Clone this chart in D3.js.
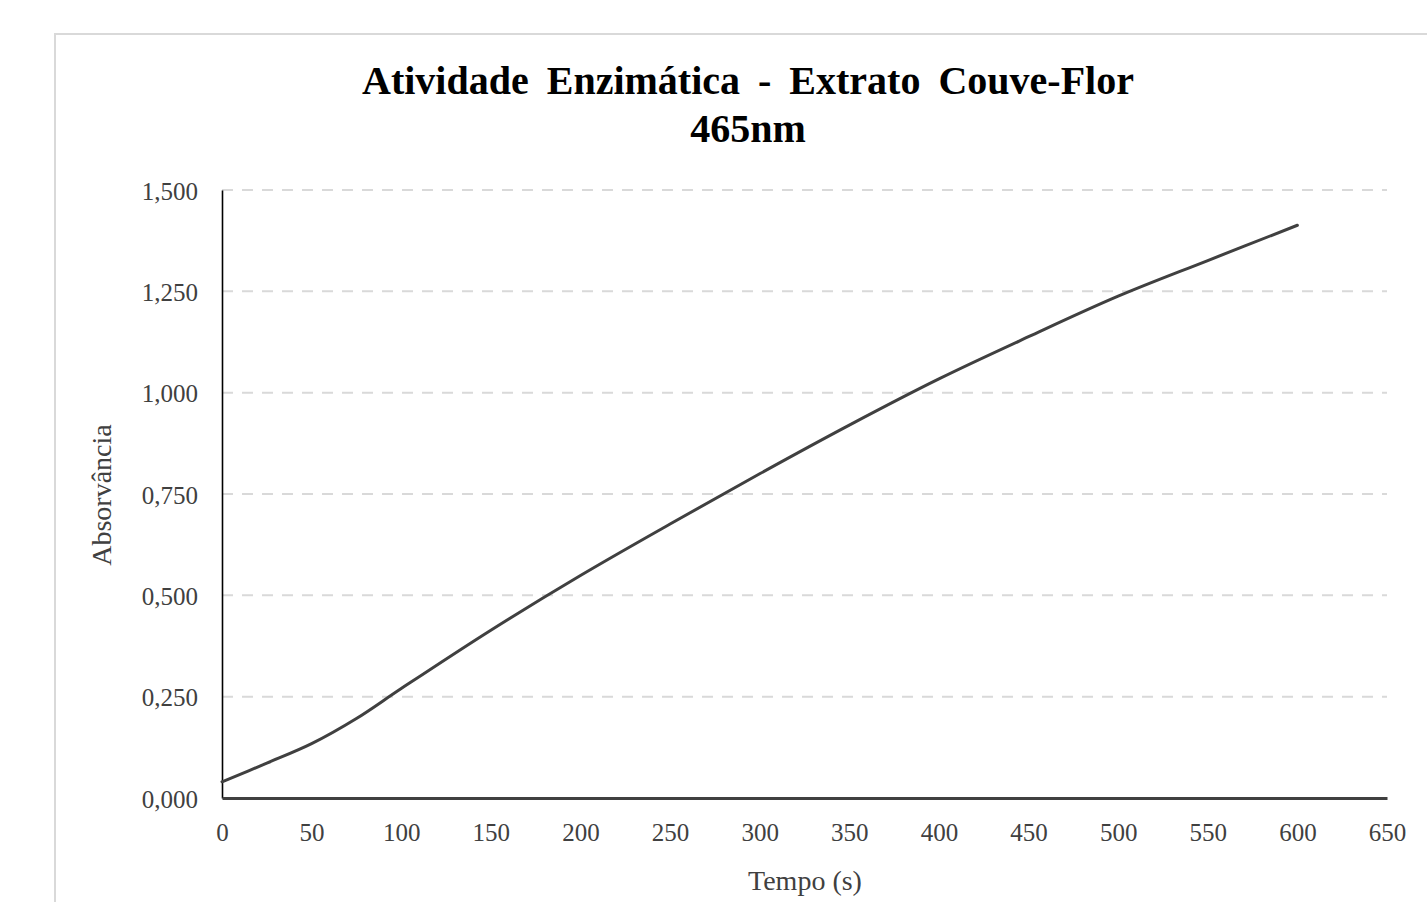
<!DOCTYPE html>
<html>
<head>
<meta charset="utf-8">
<script src="https://cdn.jsdelivr.net/npm/d3@7"></script>
<style>
  body { margin: 0; background: #fff; }
  svg { display: block; }
</style>
</head>
<body>
<svg id="chart" width="1427" height="902"></svg>
<script>
// tempo (s) e absorvância
var tempo = [0, 25, 50, 75, 100, 150, 200, 250, 300, 350, 400, 450, 500, 550, 600];
var absorbancia = [0.040, 0.086, 0.134, 0.196, 0.270, 0.414, 0.549, 0.676, 0.800, 0.920, 1.034, 1.138, 1.238, 1.326, 1.413];

var xTicks = [0, 50, 100, 150, 200, 250, 300, 350, 400, 450, 500, 550, 600, 650];
var yTicks = [0, 0.25, 0.5, 0.75, 1.0, 1.25, 1.5];

var titleLines = ["Atividade Enzimática - Extrato Couve-Flor", "465nm"];

var svg = d3.select("#chart");
var serif = "'Liberation Serif', 'Times New Roman', serif";

var x = d3.scaleLinear().domain([0, 650]).range([222, 1387]);
var y = d3.scaleLinear().domain([0, 1.5]).range([798, 190]);

var fmt = function(v){ return d3.format(".3f")(v).replace(".", ","); };

// chart frame (cut at the right and bottom)
svg.append("rect")
    .attr("x", 55).attr("y", 34)
    .attr("width", 1500).attr("height", 1000)
    .attr("fill", "none")
    .attr("stroke", "#d9d9d9")
    .attr("stroke-width", 2);

// gridlines
svg.append("g").selectAll("line")
    .data(yTicks.filter(function(d){ return d > 0; }))
    .enter().append("line")
    .attr("x1", x(0)).attr("x2", x(650))
    .attr("y1", function(d){ return y(d); })
    .attr("y2", function(d){ return y(d); })
    .attr("stroke", "#d9d9d9")
    .attr("stroke-width", 2)
    .attr("stroke-dasharray", "11,9");

// y axis
var yAxis = svg.append("g")
    .attr("transform", "translate(" + x(0) + ",0)")
    .call(d3.axisLeft(y).tickValues(yTicks).tickFormat(fmt).tickSize(0).tickPadding(24));
yAxis.select(".domain").attr("stroke", "#000").attr("stroke-width", 1.6);
yAxis.selectAll("text")
    .attr("font-family", serif).attr("font-size", 25).attr("fill", "#404040")
    .attr("dy", "0.36em");

// x axis
var xAxis = svg.append("g")
    .attr("transform", "translate(0," + y(0) + ")")
    .call(d3.axisBottom(x).tickValues(xTicks).tickSize(0).tickPadding(25));
xAxis.select(".domain").attr("stroke", "#404040").attr("stroke-width", 3);
xAxis.selectAll("text")
    .attr("font-family", serif).attr("font-size", 25).attr("fill", "#404040");

// curve (smoothed like the spreadsheet line)
var line = d3.line()
    .x(function(d, i){ return x(tempo[i]); })
    .y(function(d){ return y(d); })
    .curve(d3.curveCatmullRom.alpha(0.5));

svg.append("path")
    .datum(absorbancia)
    .attr("d", line)
    .attr("fill", "none")
    .attr("stroke", "#404040")
    .attr("stroke-width", 3)
    .attr("stroke-linecap", "round");

// title
svg.append("g").selectAll("text")
    .data(titleLines)
    .enter().append("text")
    .attr("x", 748)
    .attr("y", function(d, i){ return 94 + i * 48; })
    .attr("text-anchor", "middle")
    .attr("font-family", serif)
    .attr("font-weight", "bold")
    .attr("font-size", 40)
    .attr("word-spacing", 8)
    .attr("fill", "#000")
    .text(function(d){ return d; });

// axis titles
svg.append("text")
    .attr("x", 805).attr("y", 890)
    .attr("text-anchor", "middle")
    .attr("font-family", serif).attr("font-size", 28).attr("fill", "#404040")
    .text("Tempo (s)");

svg.append("text")
    .attr("transform", "translate(111,495) rotate(-90)")
    .attr("text-anchor", "middle")
    .attr("font-family", serif).attr("font-size", 28).attr("fill", "#404040")
    .text("Absorvância");
</script>
</body>
</html>
